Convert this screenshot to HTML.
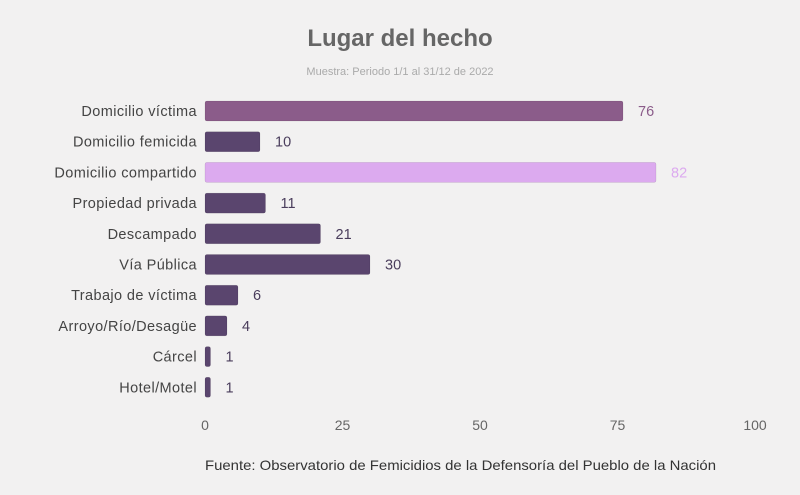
<!DOCTYPE html>
<html><head><meta charset="utf-8"><style>
body{margin:0;background:#f2f1f1;}
svg{display:block;font-family:"Liberation Sans",sans-serif;}
</style></head><body>
<svg id="chart" width="800" height="495">
<rect width="800" height="495" fill="#f2f1f1"/>
<text x="400" y="46" text-anchor="middle" font-size="24" font-weight="bold" fill="#666">Lugar del hecho</text>
<text x="400" y="75" text-anchor="middle" font-size="11" fill="#aaa">Muestra: Periodo 1/1 al 31/12 de 2022</text>
<text x="205" y="470" font-size="14" fill="#333" textLength="511" lengthAdjust="spacingAndGlyphs">Fuente: Observatorio de Femicidios de la Defensoría del Pueblo de la Nación</text>
<g id="bars"></g>
</svg>
<script>
const categories=["Domicilio víctima","Domicilio femicida","Domicilio compartido","Propiedad privada","Descampado","Vía Pública","Trabajo de víctima","Arroyo/Río/Desagüe","Cárcel","Hotel/Motel"];
const values=[76,10,82,11,21,30,6,4,1,1];
const ticks=[0,25,50,75,100];
const ns="http://www.w3.org/2000/svg";
const g=document.getElementById('bars');
const x=v=>205+v*5.5;
const y=i=>101+i*30.7;
function mk(t,a){const e=document.createElementNS(ns,t);for(const k in a)e.setAttribute(k,a[k]);g.appendChild(e);return e;}
ticks.forEach(t=>{
 const e=mk('text',{x:x(t),y:430,'text-anchor':'middle','font-size':14,fill:'#666'});
 e.textContent=t;
 
 
});
categories.forEach((c,i)=>{
 const fill=i===0?'#8b5c8a':i===2?'#dcaaef':'#5a456e';
 const lc=i===0?'#8b5c8a':i===2?'#dcaaef':'#4a3d5c';
 const r=mk('rect',{x:x(0),y:y(i),width:Math.max(x(values[i])-x(0),1),height:20,rx:2,fill:fill,stroke:'rgba(0,0,0,0.15)','stroke-width':0.5});
 
 
 const l=mk('text',{x:197,y:y(i)+15,'text-anchor':'end','font-size':14.5,'letter-spacing':0.4,fill:'#444'});
 l.textContent=c;
 
 
 const v=mk('text',{x:x(values[i])+15,y:y(i)+15,'font-size':14.5,fill:lc});
 v.textContent=values[i];
 
 
});
</script>
</body></html>
